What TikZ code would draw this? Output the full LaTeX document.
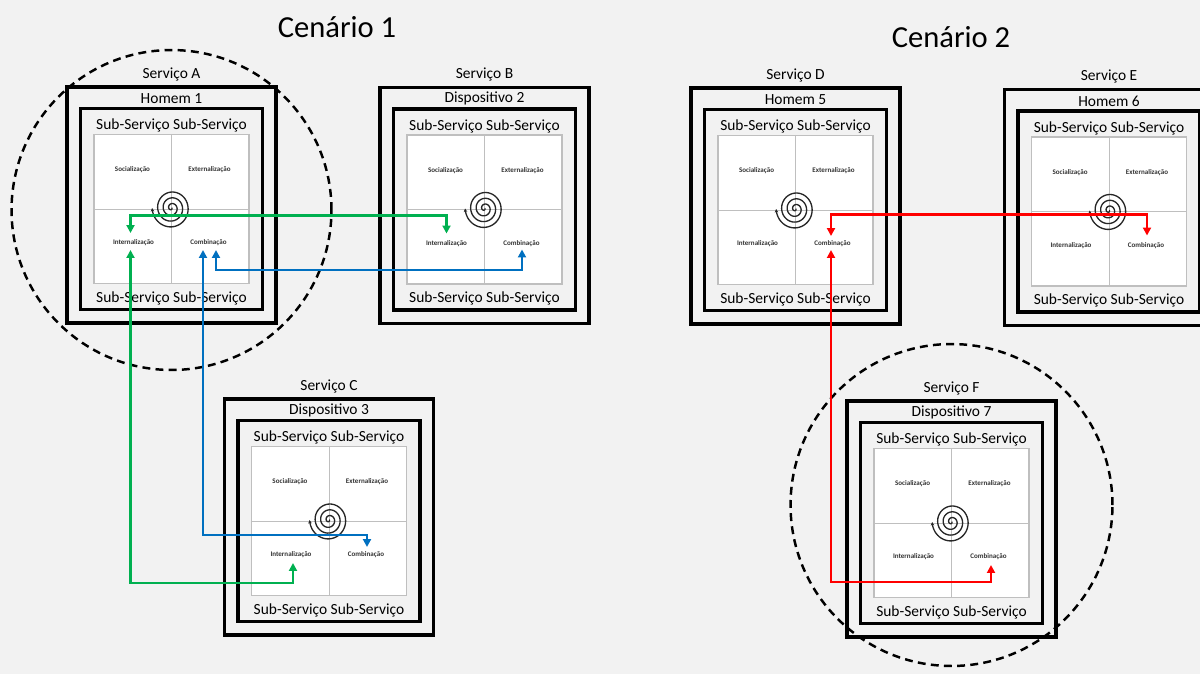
\documentclass[tikz,border=0pt]{standalone}
\usepackage{fontspec}
\setmainfont{Carlito}
\usetikzlibrary{calc,arrows.meta}
\definecolor{bggray}{HTML}{F2F2F2}
\definecolor{gridgray}{HTML}{BFBFBF}
\definecolor{labelgray}{HTML}{333333}
\definecolor{lineGreen}{HTML}{00B050}
\definecolor{lineBlue}{HTML}{0070C0}
\definecolor{lineRed}{HTML}{FF0000}
\tikzset{
  outerbox/.style={draw, line width=1.9pt, minimum width=4.18cm, minimum height=4.72cm, inner sep=0pt},
  innerbox/.style={draw, line width=1.9pt, minimum width=3.64cm, minimum height=4.02cm, inner sep=0pt},
  quadbox/.style={draw=gridgray, fill=white, line width=0.6pt, minimum width=3.1cm, minimum height=2.98cm, inner sep=0pt},
  boxtext/.style={inner sep=0pt, font=\fontsize{8.8pt}{10pt}\selectfont},
  quadtext/.style={inner sep=0pt, text=labelgray, font=\fontsize{4pt}{5pt}\selectfont\bfseries},
  scenario/.style={circle, draw, dashed, dash pattern=on 4.5pt off 3pt, line width=1.4pt, inner sep=0pt},
  scentext/.style={inner sep=0pt, font=\fontsize{17.4pt}{20pt}\selectfont},
  spiral/.style={draw=black!85, line width=0.75pt, -{Stealth[length=2pt,width=2pt]}},
  link/.style={line width=1.4pt, {Triangle[length=4.5pt,width=4.5pt]}-{Triangle[length=4.5pt,width=4.5pt]}},
}
\begin{document}
\begin{tikzpicture}[x=0.02cm, y=-0.02cm]
\fill[bggray] (0,0) rectangle (1200,674);
\useasboundingbox (0,0) rectangle (1200,674);

% scenarios
\node[scenario, minimum size=6.4cm] (cen1) at (171.5,210) {};
\node[scenario, minimum size=6.44cm] (cen2) at (951.5,505) {};
\node[scentext] (cen1text) at (337,27) {Cenário 1};
\node[scentext] (cen2text) at (951,37) {Cenário 2};

% services
\foreach \n/\x/\y/\s/\t in {A/171.5/205/Serviço A/Homem 1,
    B/484.5/205.5/Serviço B/Dispositivo 2,
    C/329/517/Serviço C/Dispositivo 3,
    D/795.5/206/Serviço D/Homem 5,
    E/1109/207.5/Serviço E/Homem 6,
    F/951.5/519/Serviço F/Dispositivo 7}{
  \node[outerbox] (out\n) at (\x,\y) {};
  \node[boxtext] (svc\n) at ($(out\n.north)+(0,-11)$) {\s};
  \node[innerbox] (in\n) at ($(out\n.center)+(0,4)$) {};
  \node[boxtext] (title\n) at ($(out\n.north)+(0,13)$) {\t};
  \node[quadbox] (q\n) at ($(out\n.center)+(0,4)$) {};
  \draw[gridgray, line width=0.5pt] (q\n.north) -- (q\n.south) (q\n.west) -- (q\n.east);
  \node[boxtext] (subtop\n) at ($(in\n.north)+(0,19)$) {Sub-Serviço Sub-Serviço};
  \node[boxtext] (subbot\n) at ($(in\n.south)+(0,-13)$) {Sub-Serviço Sub-Serviço};
  \node[quadtext] (soc\n) at ($(q\n.center)+(-39,-39)$) {Socialização};
  \node[quadtext] (ext\n) at ($(q\n.center)+(38,-39)$) {Externalização};
  \node[quadtext] (int\n) at ($(q\n.center)+(-38,34)$) {Internalização};
  \node[quadtext] (comb\n) at ($(q\n.center)+(37,34)$) {Combinação};
  \begin{scope}[shift={($(q\n.center)+(0,-1)$)}]
    \draw[spiral] plot[domain=0:1260, samples=180, variable=\a] ({\a/65*cos(\a)}, {\a/62*sin(\a)});
  \end{scope}
}

% links
\draw[link, lineGreen] ($(intA)+(-3,-10)$) |- ($(intB)+(0,-28)$) -- ($(intB)+(0,-10)$);
\draw[link, lineBlue] ($(combA)+(7.5,7)$) |- ($(combB)+(0.5,26.5)$) -- ($(combB)+(0.5,6)$);
\draw[link, lineGreen] ($(intA)+(-3,7)$) |- ($(intC)+(2,28)$) -- ($(intC)+(2,8)$);
\draw[link, lineBlue] ($(combA)+(-5.5,7)$) |- ($(combC)+(1,-20)$) -- ($(combC)+(1,-8)$);
\draw[link, lineRed] ($(combD)+(-1.5,-8)$) |- ($(combE)+(1,-31)$) -- ($(combE)+(1,-10)$);
\draw[link, lineRed] ($(combD)+(-1.5,6)$) |- ($(combF)+(2.5,25)$) -- ($(combF)+(2.5,8)$);
\end{tikzpicture}
\end{document}
